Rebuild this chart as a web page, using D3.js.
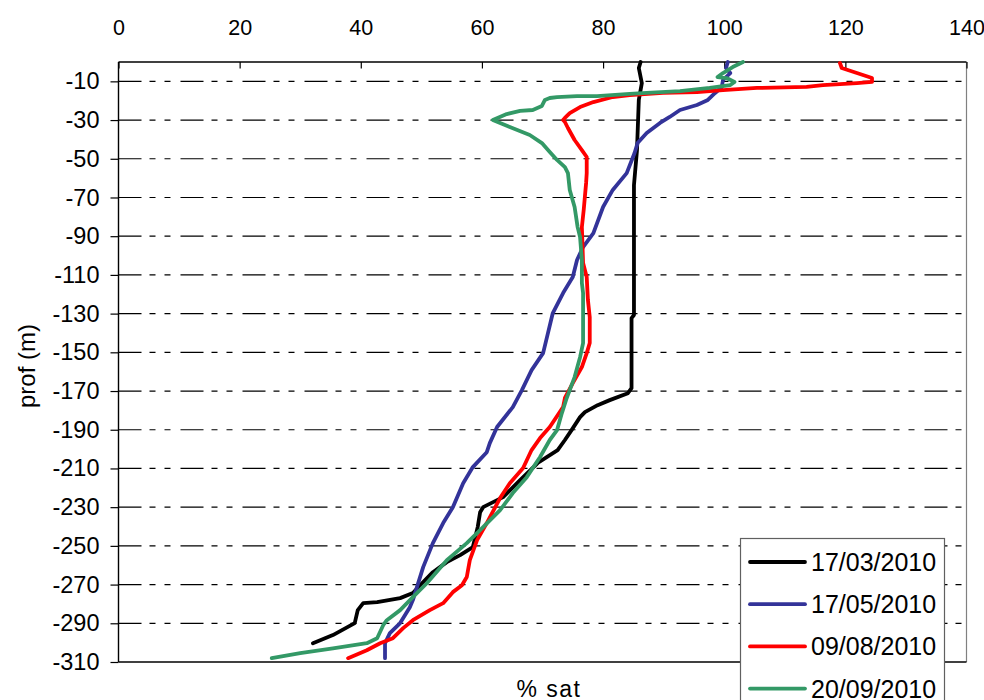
<!DOCTYPE html>
<html>
<head>
<meta charset="utf-8">
<script src="https://cdn.jsdelivr.net/npm/d3@7"></script>
<style>
  body { margin: 0; background: #fff; }
  svg { display: block; font-family: "Liberation Sans", Arial, sans-serif; }
</style>
</head>
<body>
<svg id="chart" width="984" height="700"></svg>
<script>
// [% sat, depth m]
const mar17 = [[86.2,0],[85.9,-3.1],[86.4,-10.9],[85.9,-19.6],[85.6,-45.5],[85.1,-63.6],[85.1,-130.7],[84.7,-132.3],[84.7,-168.5],[84.1,-171.1],[81.1,-174.7],[79.1,-177.3],[77.0,-180.9],[76.2,-183.5],[74.8,-190.2],[73.7,-195.3],[72.5,-200.5],[70.7,-204.1],[69.2,-207.2],[66.3,-216.0],[63.5,-224.8],[60.2,-230.0],[59.7,-232.6],[59.3,-240.3],[58.5,-250.6],[56.4,-254.8],[54.2,-258.4],[51.9,-263.6],[50.3,-268.7],[48.6,-274.4],[46.5,-277.0],[42.7,-279.1],[40.4,-279.6],[39.5,-283.2],[39.0,-289.9],[35.4,-296.1],[32.1,-300.3]];
const may17 = [[100.6,0],[100.3,-3.1],[101.0,-5.7],[99.8,-9.3],[99.6,-12.9],[98.5,-16.0],[97.3,-19.6],[95.5,-22.2],[92.7,-24.8],[91.0,-28.4],[89.4,-31.5],[87.2,-36.7],[85.7,-41.9],[85.2,-47.0],[83.9,-57.4],[81.6,-66.1],[80.0,-74.9],[78.4,-88.4],[76.7,-95.6],[75.7,-102.3],[75.0,-111.1],[73.4,-119.4],[71.7,-129.7],[70.9,-140.1],[70.1,-150.4],[68.2,-159.2],[66.6,-169.5],[65.1,-178.3],[62.5,-188.6],[61.3,-196.9],[60.8,-201.6],[58.5,-209.3],[56.9,-217.6],[55.2,-230.0],[53.6,-238.2],[51.9,-248.6],[50.3,-261.0],[48.6,-278.0],[48.1,-281.7],[46.5,-289.9],[44.8,-295.1],[44.0,-300.3],[44.0,-308.0]];
const aug09 = [[119.1,-0.5],[119.4,-3.1],[121.9,-5.7],[124.4,-8.3],[124.4,-10.3],[121.9,-10.9],[116.3,-11.9],[113.6,-12.9],[105.4,-13.4],[99.8,-14.5],[95.5,-15.5],[89.9,-16.0],[84.4,-17.1],[81.6,-18.1],[78.4,-20.7],[76.2,-23.3],[74.5,-26.4],[73.7,-28.9],[73.4,-30.0],[73.7,-31.0],[74.2,-34.1],[75.3,-40.3],[76.5,-45.5],[77.3,-49.1],[77.3,-57.4],[77.2,-62.5],[76.8,-76.5],[76.5,-85.3],[76.7,-103.9],[77.3,-111.1],[77.5,-123.0],[77.8,-131.8],[77.8,-145.2],[77.3,-150.4],[76.5,-157.6],[75.0,-165.9],[73.7,-173.6],[73.4,-178.3],[71.2,-188.6],[69.6,-194.3],[68.2,-200.5],[66.8,-209.8],[64.6,-217.6],[63.0,-225.3],[60.8,-238.2],[59.2,-247.0],[58.0,-257.4],[57.5,-266.1],[56.7,-270.3],[55.2,-273.9],[53.6,-279.6],[51.4,-283.2],[48.6,-288.4],[47.0,-292.5],[45.3,-297.7],[43.2,-300.3],[41.0,-303.9],[37.9,-308.0]];
const sep20 = [[103.1,0],[101.4,-2.6],[99.8,-5.7],[98.9,-7.8],[100.4,-8.3],[101.7,-10.3],[101.0,-11.9],[97.6,-13.4],[92.7,-15.0],[87.2,-16.0],[84.4,-16.5],[79.0,-17.6],[75.7,-17.6],[72.4,-18.1],[71.2,-18.6],[70.4,-19.6],[69.9,-22.7],[68.4,-24.8],[66.3,-25.3],[64.1,-26.9],[61.8,-30.0],[64.6,-33.6],[67.9,-37.7],[69.9,-41.9],[71.2,-46.5],[72.4,-50.6],[73.7,-54.3],[74.2,-57.4],[74.5,-66.1],[75.3,-74.9],[75.8,-85.3],[76.2,-90.4],[76.5,-102.3],[76.5,-114.2],[76.7,-119.4],[76.7,-145.2],[76.2,-152.5],[75.3,-162.8],[74.0,-173.6],[73.2,-181.4],[72.4,-190.2],[71.2,-195.3],[69.6,-204.1],[67.4,-214.5],[65.1,-222.7],[63.0,-231.5],[59.7,-241.9],[57.5,-248.6],[54.2,-257.4],[50.9,-269.3],[48.6,-276.5],[46.5,-283.2],[44.3,-288.4],[43.7,-291.0],[42.7,-297.7],[41.0,-300.3],[35.4,-302.9],[30.0,-305.4],[25.3,-308.0]];

const seriesNames = ["17/03/2010", "17/05/2010", "09/08/2010", "20/09/2010"];
const seriesColors = ["#000000", "#333399", "#ff0000", "#339966"];
const seriesData = [mar17, may17, aug09, sep20];

const xTicks = [0, 20, 40, 60, 80, 100, 120, 140];
const yTicks = [-10, -30, -50, -70, -90, -110, -130, -150, -170, -190, -210, -230, -250, -270, -290, -310];

const svg = d3.select("#chart");
const x = d3.scaleLinear().domain([0, 140]).range([118.5, 966.5]);
const y = d3.scaleLinear().domain([0, -310]).range([62, 662]);

// dashed grid
svg.append("g").selectAll("line")
  .data(yTicks.filter(t => t !== -310))
  .join("line")
  .attr("x1", x(0)).attr("x2", x(140))
  .attr("y1", d => y(d)).attr("y2", d => y(d))
  .attr("stroke", "#000").attr("stroke-width", 1.2)
  .attr("stroke-dasharray", "23,8,6,9,6,10");

// frame
svg.append("line").attr("x1", x(140)).attr("x2", x(140)).attr("y1", y(0)).attr("y2", y(-310))
  .attr("stroke", "#808080").attr("stroke-width", 1.2);
svg.append("line").attr("x1", x(0)).attr("x2", x(140)).attr("y1", y(-310)).attr("y2", y(-310))
  .attr("stroke", "#000").attr("stroke-width", 1.4);
svg.append("line").attr("x1", x(0)).attr("x2", x(140)).attr("y1", y(0)).attr("y2", y(0))
  .attr("stroke", "#000").attr("stroke-width", 1.4);

// top axis
const xAxis = svg.append("g").attr("transform", `translate(0,${y(0)})`)
  .call(d3.axisTop(x).tickValues(xTicks).tickSize(-6.5).tickPadding(27.5).tickFormat(d => String(d)));
xAxis.select(".domain").remove();
xAxis.selectAll("text").attr("font-size", 21.5).attr("fill", "#000").attr("font-family", "Liberation Sans, Arial, sans-serif");
xAxis.selectAll("line").attr("stroke", "#000").attr("stroke-width", 1.2);

// left axis
const yAxis = svg.append("g").attr("transform", `translate(${x(0)},0)`)
  .call(d3.axisLeft(y).tickValues(yTicks).tickSize(8).tickPadding(11).tickFormat(d => String(d)));
yAxis.select(".domain").attr("stroke", "#000").attr("stroke-width", 1.4)
  .attr("d", `M0,${y(0)}V${y(-310)}`);
yAxis.selectAll("text").attr("font-size", 23.5).attr("fill", "#000").attr("font-family", "Liberation Sans, Arial, sans-serif");
yAxis.selectAll("line").attr("stroke", "#000").attr("stroke-width", 1.2);

// lines
const line = d3.line().x(d => x(d[0])).y(d => y(d[1]));
svg.append("g").selectAll("path")
  .data(seriesData)
  .join("path")
  .attr("d", line)
  .attr("fill", "none")
  .attr("stroke", (d, i) => seriesColors[i])
  .attr("stroke-width", 3.8)
  .attr("stroke-linejoin", "round")
  .attr("stroke-linecap", "round");

// axis titles
svg.append("text")
  .attr("transform", "translate(35,366) rotate(-90)")
  .attr("text-anchor", "middle")
  .attr("font-size", 24)
  .text("prof (m)");
svg.append("text")
  .attr("x", 549).attr("y", 697)
  .attr("text-anchor", "middle")
  .attr("font-size", 23)
  .attr("letter-spacing", 1.5)
  .text("% sat");

// legend
const legend = svg.append("g");
legend.append("rect")
  .attr("x", 740.5).attr("y", 538.5).attr("width", 204).attr("height", 200)
  .attr("fill", "#fff").attr("stroke", "#606060").attr("stroke-width", 1.2);
const items = legend.selectAll("g.item")
  .data(seriesNames)
  .join("g")
  .attr("class", "item")
  .attr("transform", (d, i) => `translate(0,${562 + i * 42.2})`);
items.append("line")
  .attr("x1", 750).attr("x2", 805)
  .attr("stroke", (d, i) => seriesColors[i])
  .attr("stroke-width", 3.8)
  .attr("stroke-linecap", "round");
items.append("text")
  .attr("x", 811).attr("dy", "0.36em")
  .attr("font-size", 25)
  .text(d => d);
</script>
</body>
</html>
